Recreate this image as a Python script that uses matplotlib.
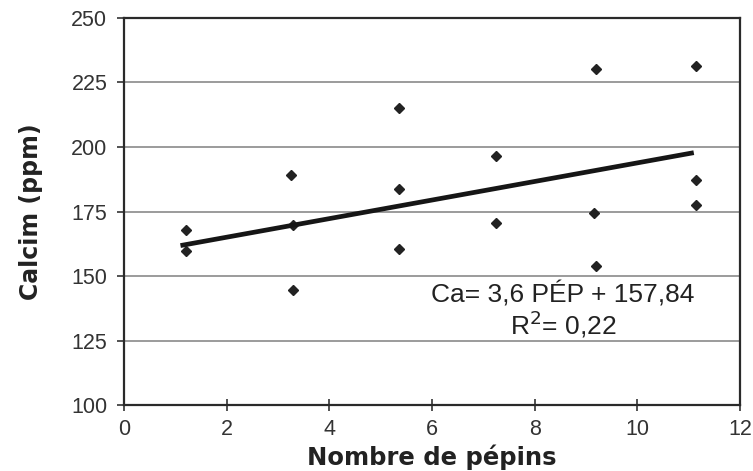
import numpy as np
import matplotlib.pyplot as plt

# values
pepins = [1.2, 1.2, 3.25, 3.3, 3.3, 5.35, 5.35, 5.35, 7.25, 7.25,
          9.2, 9.15, 9.2, 11.15, 11.15, 11.15]
calcium = [167.7, 159.8, 189.1, 169.8, 144.6, 215.0, 183.6, 160.4, 196.5, 170.6,
           230.4, 174.6, 153.8, 231.5, 187.1, 177.7]

slope = 3.6
intercept = 157.84
r2 = 0.22
trend_x = [1.1, 11.1]

x_ticks = [0, 2, 4, 6, 8, 10, 12]
y_ticks = [100, 125, 150, 175, 200, 225, 250]

tick_font = ["Liberation Sans", "DejaVu Sans"]
label_font = ["DejaVu Sans"]

fig = plt.figure(figsize=(7.53, 4.71), dpi=100)
ax = fig.add_axes([0.1647, 0.1401, 0.8180, 0.8217])

for y in y_ticks[1:-1]:
    ax.axhline(y, color="#8a8a8a", linewidth=1.2, zorder=1)

trend_y = [slope * x + intercept for x in trend_x]
ax.plot(trend_x, trend_y, color="#161616", linewidth=3.4,
        solid_capstyle="butt", zorder=3)
ax.plot(pepins, calcium, linestyle="none", marker="D", markersize=5.5,
        color="#222222", zorder=2)

ax.set_xlim(0, 12)
ax.set_ylim(100, 250)
ax.set_xticks(x_ticks)
ax.set_yticks(y_ticks)
ax.tick_params(axis="x", direction="inout", length=8, width=1.2,
               color="#333333", pad=6)
ax.tick_params(axis="y", direction="out", length=5, width=1.2,
               color="#333333", pad=7)
for lbl in ax.get_xticklabels() + ax.get_yticklabels():
    lbl.set_family(tick_font)
    lbl.set_fontsize(15.5)
    lbl.set_color("#333333")

for side in ["left", "right", "top", "bottom"]:
    ax.spines[side].set_linewidth(1.6)
    ax.spines[side].set_color("#2a2a2a")

ax.set_xlabel("Nombre de pépins", family=label_font, fontweight="bold",
              fontsize=17.5, color="#222222", labelpad=3)
ax.set_ylabel("Calcim (ppm)", family=label_font, fontweight="bold",
              fontsize=17, color="#222222", labelpad=20)

eq_text = "Ca= 3,6 PÉP + 157,84\nR$^{2}$= " + f"{r2:.2f}".replace(".", ",")
ax.text(8.55, 136.5, eq_text, ha="center", va="center", family=tick_font,
        fontsize=19, color="#222222", linespacing=1.05)

fig.savefig("out.png", dpi=100)
